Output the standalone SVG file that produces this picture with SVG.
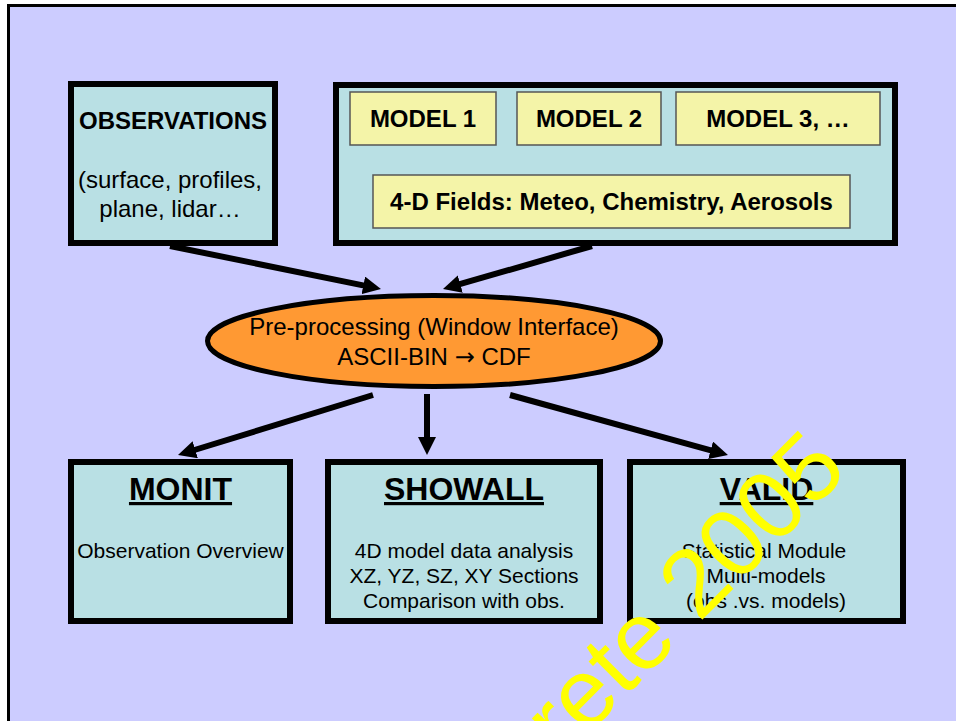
<svg xmlns="http://www.w3.org/2000/svg" width="956" height="721" viewBox="0 0 956 721">
<style>
text{font-family:"Liberation Sans",Arial,sans-serif;fill:#000;text-anchor:middle}
.box{fill:#B9E0E4;stroke:#000;stroke-width:6}
.ybox{fill:#F4F4A8;stroke:#555;stroke-width:1.5}
.hd{font-weight:bold;font-size:24px}
.big{font-weight:bold;font-size:32px;text-decoration:underline}
.body{font-size:21px}
.conn line{stroke:#000;stroke-width:6;fill:none}
.wm{font-size:96px;fill:#FFFF00;text-anchor:end}
</style>
<defs>
<marker id="ah" viewBox="0 0 18 18" refX="6" refY="9" markerWidth="18" markerHeight="18" markerUnits="userSpaceOnUse" orient="auto">
<path d="M0,0 L18,9 L0,18 z" fill="#000"/>
</marker>
</defs>
<rect x="0" y="0" width="956" height="721" fill="#fff"/>
<rect x="8.5" y="5.5" width="960" height="730" fill="#CCCCFF" stroke="#000" stroke-width="3"/>

<g id="observations">
<rect class="box" x="71" y="84" width="204" height="159"/>
<text class="hd" x="173" y="129">OBSERVATIONS</text>
<text x="170" y="188" font-size="24">(surface, profiles,</text>
<text x="170" y="217" font-size="24">plane, lidar…</text>
</g>

<g id="models">
<rect class="box" x="336" y="85" width="559" height="158"/>
</g>
<g id="model1">
<rect class="ybox" x="350" y="92" width="146" height="53"/>
<text class="hd" x="423" y="127">MODEL 1</text>
</g>
<g id="model2">
<rect class="ybox" x="517" y="92" width="144" height="53"/>
<text class="hd" x="589" y="127">MODEL 2</text>
</g>
<g id="model3">
<rect class="ybox" x="676" y="92" width="204" height="53"/>
<text class="hd" x="778" y="127">MODEL 3, …</text>
</g>
<g id="fields4d">
<rect class="ybox" x="373" y="175" width="477" height="53"/>
<text class="hd" x="611.5" y="210">4-D Fields: Meteo, Chemistry, Aerosols</text>
</g>

<g id="preprocessing">
<ellipse cx="434" cy="341" rx="226.5" ry="45.5" fill="#FF9933" stroke="#000" stroke-width="5"/>
<text x="434" y="335" font-size="24">Pre-processing (Window Interface)</text>
<text x="434" y="365" font-size="24">ASCII-BIN <tspan font-family="'DejaVu Sans',sans-serif">→</tspan> CDF</text>
</g>

<g id="monit">
<rect class="box" x="71" y="462" width="219" height="159"/>
<text class="big" x="180.5" y="500">MONIT</text>
<text class="body" x="180.5" y="558">Observation Overview</text>
</g>

<g id="showall">
<rect class="box" x="328" y="462" width="272" height="159"/>
<text class="big" x="464" y="500">SHOWALL</text>
<text class="body" x="464" y="558">4D model data analysis</text>
<text class="body" x="464" y="583">XZ, YZ, SZ, XY Sections</text>
<text class="body" x="464" y="608">Comparison with obs.</text>
</g>

<g id="valid">
<rect class="box" x="630" y="462" width="273" height="159"/>
<text class="big" x="766.5" y="500">VALID</text>
<text class="body" x="764" y="558">Statistical Module</text>
<text class="body" x="766" y="583">Multi-models</text>
<text class="body" x="766" y="608">(obs .vs. models)</text>
</g>

<g id="connectors" class="conn">
<line x1="170" y1="246" x2="369.2" y2="286.6" marker-end="url(#ah)"/>
<line x1="592" y1="246" x2="454.5" y2="285.7" marker-end="url(#ah)"/>
<line x1="373" y1="395" x2="189.5" y2="451.5" marker-end="url(#ah)"/>
<line x1="427" y1="394" x2="427" y2="443" marker-end="url(#ah)"/>
<line x1="510" y1="395" x2="716.4" y2="451.8" marker-end="url(#ah)"/>
</g>

<text class="wm" x="850" y="472" transform="rotate(-45 850 472)">Crete 2005</text>
</svg>
